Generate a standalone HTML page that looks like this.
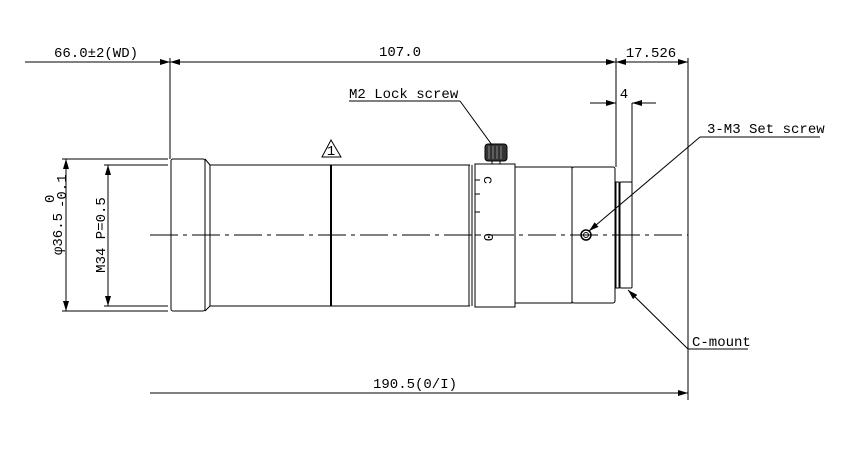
<!DOCTYPE html>
<html><head><meta charset="utf-8"><style>
body{margin:0;background:#fff}
svg{display:block}
text{font-family:"Liberation Mono","Liberation Sans",monospace;font-size:14px;fill:#000}
</style></head><body>
<svg width="857" height="451" viewBox="0 0 857 451" xmlns="http://www.w3.org/2000/svg">
<defs>
<marker id="a" viewBox="0 0 10 6" refX="10" refY="3" markerWidth="10" markerHeight="6" orient="auto-start-reverse" markerUnits="userSpaceOnUse"><path d="M0,0L10,3L0,6z" fill="#000"/></marker>
</defs>
<g stroke="#000" stroke-width="1" fill="none">
<line x1="25" y1="62" x2="170" y2="62" marker-end="url(#a)"/>
<line x1="170" y1="62" x2="616" y2="62" marker-start="url(#a)" marker-end="url(#a)"/>
<line x1="616" y1="62" x2="688" y2="62" marker-start="url(#a)" marker-end="url(#a)"/>
<line x1="170" y1="58" x2="170" y2="159"/>
<line x1="616" y1="58" x2="616" y2="167"/>
<line x1="688" y1="58" x2="688" y2="400"/>
<line x1="590" y1="103" x2="616" y2="103" marker-end="url(#a)"/>
<line x1="656" y1="103" x2="632" y2="103" marker-end="url(#a)"/>
<line x1="632" y1="103" x2="632" y2="182"/>
<line x1="62" y1="159" x2="168" y2="159"/>
<line x1="62" y1="311" x2="168" y2="311"/>
<line x1="104" y1="165" x2="168" y2="165"/>
<line x1="104" y1="306" x2="168" y2="306"/>
<line x1="66" y1="159" x2="66" y2="311" marker-start="url(#a)" marker-end="url(#a)"/>
<line x1="108" y1="165" x2="108" y2="306" marker-start="url(#a)" marker-end="url(#a)"/>
<line x1="150" y1="393" x2="688" y2="393" marker-end="url(#a)"/>
<rect x="171" y="159" width="34" height="152" rx="2"/>
<path d="M205,159 L210,165 M205,311 L210,306 M210,165 V306"/>
<line x1="210" y1="165" x2="470" y2="165"/>
<line x1="210" y1="306" x2="470" y2="306"/>
<line x1="331" y1="165" x2="331" y2="306" stroke-width="2"/>
<line x1="469" y1="165" x2="469" y2="306"/>
<line x1="472" y1="165" x2="472" y2="306"/>
<rect x="475" y="164" width="40" height="143"/>
<rect x="515" y="167" width="57" height="136"/>
<rect x="572" y="167" width="43" height="136" rx="2"/>
<rect x="616" y="182" width="3" height="106"/>
<rect x="620" y="182" width="12" height="106" rx="1"/>
<path d="M475,180h5 M475,194h5 M475,212h5 M475,235h5"/>
<rect x="485" y="144" width="22" height="17" rx="3" fill="#333"/>
<path d="M489,146v13 M493,146v13 M497,146v13 M501,146v13" stroke="#888"/>
<rect x="492" y="161" width="8" height="3"/>
<circle cx="586" cy="235" r="5" stroke-width="1.5"/>
<circle cx="586" cy="235" r="2.5"/>
<path d="M322,157 L331,140 L341,157 Z"/>
<line x1="150" y1="235" x2="688" y2="235" stroke-dasharray="28,5,4,5"/>
<line x1="349" y1="101" x2="460" y2="101"/>
<line x1="460" y1="101" x2="492" y2="145"/>
<line x1="700" y1="137" x2="820" y2="137"/>
<line x1="700" y1="137" x2="589" y2="231" marker-end="url(#a)"/>
<line x1="688" y1="349" x2="748" y2="349"/>
<line x1="688" y1="349" x2="628" y2="290" marker-end="url(#a)"/>
</g>
<text x="96" y="57" text-anchor="middle">66.0±2(WD)</text>
<text x="400" y="56" text-anchor="middle">107.0</text>
<text x="651" y="57" text-anchor="middle">17.526</text>
<text x="624" y="98" text-anchor="middle">4</text>
<text x="349" y="98">M2 Lock screw</text>
<text x="707" y="133">3-M3 Set screw</text>
<text x="692" y="346">C-mount</text>
<text x="415" y="388" text-anchor="middle">190.5(0/I)</text>
<text x="331" y="155" font-size="10" text-anchor="middle">1</text>
<text transform="translate(62,255) rotate(-90)" font-family="Liberation Sans" font-size="15">φ36.5</text>
<text transform="translate(54,203) rotate(-90)" font-family="Liberation Sans" font-size="11">0</text>
<text transform="translate(66,208) rotate(-90)" font-family="Liberation Sans" font-size="11">-0.1</text>
<text transform="translate(105,235) rotate(-90)" text-anchor="middle" font-family="Liberation Sans" font-size="15">M34 P=0.5</text>
<text transform="translate(484,176) rotate(90)" font-size="8">c</text>
<text transform="translate(484,233) rotate(90)" font-size="8">0</text>
</svg>
</body></html>
